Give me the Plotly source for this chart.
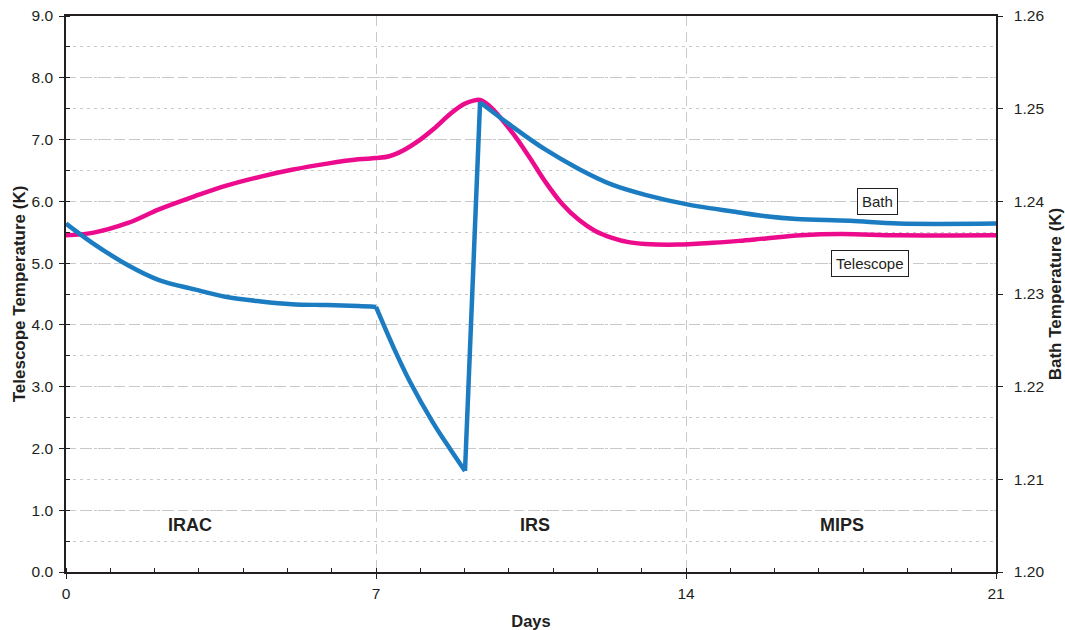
import plotly.graph_objects as go

# ---- data ----
tel_days = [0, 0.6, 1.4, 2.1, 2.9, 3.6, 4.4, 5.1, 5.9, 6.6, 7.0, 7.3, 7.6, 8.0, 8.3, 8.7, 9.0, 9.2, 9.35,
            9.55, 10.07, 10.45, 10.82, 11.2, 11.58, 11.95, 12.33, 12.7, 13.08, 13.8, 14.6, 15.2, 15.8,
            16.6, 17.5, 18.8, 21]
tel_temp = [5.45, 5.49, 5.65, 5.87, 6.08, 6.25, 6.40, 6.51, 6.61, 6.68, 6.70, 6.73, 6.82, 7.00, 7.17,
            7.43, 7.58, 7.63, 7.64, 7.55, 7.12, 6.73, 6.32, 5.96, 5.70, 5.52, 5.41, 5.34, 5.31, 5.30,
            5.33, 5.36, 5.40, 5.45, 5.47, 5.45, 5.45]

bath_days = [0, 0.6, 1.4, 2.1, 2.9, 3.6, 4.4, 5.1, 5.9, 6.6, 7.0, 7.39, 7.77, 8.29, 8.67, 9.01,
             9.35, 10.07, 10.82, 11.58, 12.33, 13.08, 14.0, 15.2, 15.8, 16.5, 17.7, 18.8, 21]
bath_temp = [1.2376, 1.2355, 1.2331, 1.2315, 1.2305, 1.2297, 1.2292, 1.2289, 1.2288, 1.2287, 1.2286,
             1.2243, 1.2205, 1.2161, 1.2133, 1.2109, 1.2507, 1.2481, 1.2456, 1.2435, 1.2418,
             1.2407, 1.2397, 1.2388, 1.2384, 1.2381, 1.2379, 1.2376, 1.2376]
bath_breaks = [10, 15, 16]  # indices where the bath curve has sharp corners

phase_names = ["IRAC", "IRS", "MIPS"]
phase_x = [2.8, 10.59, 17.52]
phase_y = [0.76, 0.76, 0.76]

x_ticks = [0, 7, 14, 21]

# ---- build bath segments (smooth between sharp corners) ----
bx, by = [], []
edges = [0] + bath_breaks + [len(bath_days) - 1]
for a, b in zip(edges[:-1], edges[1:]):
    if bx:
        bx.append(None); by.append(None)
    bx.extend(bath_days[a:b + 1]); by.extend(bath_temp[a:b + 1])

PINK = "#ec0b8d"
BLUE = "#1c7cc1"
DARK = "#231f20"
GRID = "#c9c9c9"
FONT = "Liberation Sans, Arial, sans-serif"
TICK = 15.5

fig = go.Figure()
fig.add_trace(go.Scatter(x=tel_days, y=tel_temp, mode="lines", line=dict(color=PINK, width=4.5, shape="spline", smoothing=1.0),
                         showlegend=False, yaxis="y"))
fig.add_trace(go.Scatter(x=bx, y=by, mode="lines", line=dict(color=BLUE, width=4.5, shape="spline", smoothing=1.0),
                         connectgaps=False, showlegend=False, yaxis="y2"))

for n, x, y in zip(phase_names, phase_x, phase_y):
    fig.add_annotation(x=x, y=y, xref="x", yref="y", text="<b>%s</b>" % n, showarrow=False,
                       font=dict(family=FONT, size=18, color=DARK))

fig.add_annotation(x=18.33, y=5.99, xref="x", yref="y", text="Bath", showarrow=False,
                   font=dict(family=FONT, size=15, color=DARK), bordercolor=DARK, borderwidth=1,
                   borderpad=4, bgcolor="white")
fig.add_annotation(x=18.16, y=4.99, xref="x", yref="y", text="Telescope", showarrow=False,
                   font=dict(family=FONT, size=15, color=DARK), bordercolor=DARK, borderwidth=1,
                   borderpad=4, bgcolor="white")

fig.update_layout(
    width=1065, height=630,
    margin=dict(l=66, r=69, t=16, b=58),
    paper_bgcolor="white", plot_bgcolor="white",
    font=dict(family=FONT, color=DARK),
    xaxis=dict(range=[0, 21], tickvals=x_ticks, ticktext=[str(v) for v in x_ticks], automargin=False,
               showgrid=True, gridcolor=GRID, griddash="10px,6px", gridwidth=1,
               showline=True, linecolor=DARK, linewidth=1.5, mirror=True,
               ticks="outside", ticklen=5, tickcolor=DARK, tickwidth=1.2, ticklabelstandoff=2,
               tickfont=dict(size=TICK, color=DARK), zeroline=False,
               minor=dict(dtick=1, tick0=0, ticks="inside", ticklen=4, tickcolor=DARK, showgrid=False),
               title=dict(text="<b>Days</b>", font=dict(size=16.5, color=DARK), standoff=14)),
    yaxis=dict(range=[0, 9], dtick=1, tick0=0, tickformat=".1f", automargin=False,
               showgrid=True, gridcolor=GRID, griddash="10px,6px", gridwidth=1,
               showline=True, linecolor=DARK, linewidth=1.5,
               ticks="outside", ticklen=5, tickcolor=DARK, tickwidth=1.2, ticklabelstandoff=3,
               tickfont=dict(size=TICK, color=DARK), zeroline=False,
               minor=dict(dtick=0.5, tick0=0, ticks="inside", ticklen=4, tickcolor=DARK,
                          showgrid=True, gridcolor=GRID, griddash="3px,4px", gridwidth=1),
               title=dict(text="<b>Telescope Temperature (K)</b>", font=dict(size=17, color=DARK), standoff=2)),
    yaxis2=dict(range=[1.20, 1.26], dtick=0.01, tick0=1.20, tickformat=".2f", overlaying="y", side="right",
                automargin=False,
                showgrid=False, showline=True, linecolor=DARK, linewidth=1.5,
                ticks="outside", ticklen=5, tickcolor=DARK, tickwidth=1.2, ticklabelstandoff=8,
                tickfont=dict(size=TICK, color=DARK), zeroline=False,
                title=dict(text="<b>Bath Temperature (K)</b>", font=dict(size=17, color=DARK), standoff=6)),
)

fig.write_html("out.html")
